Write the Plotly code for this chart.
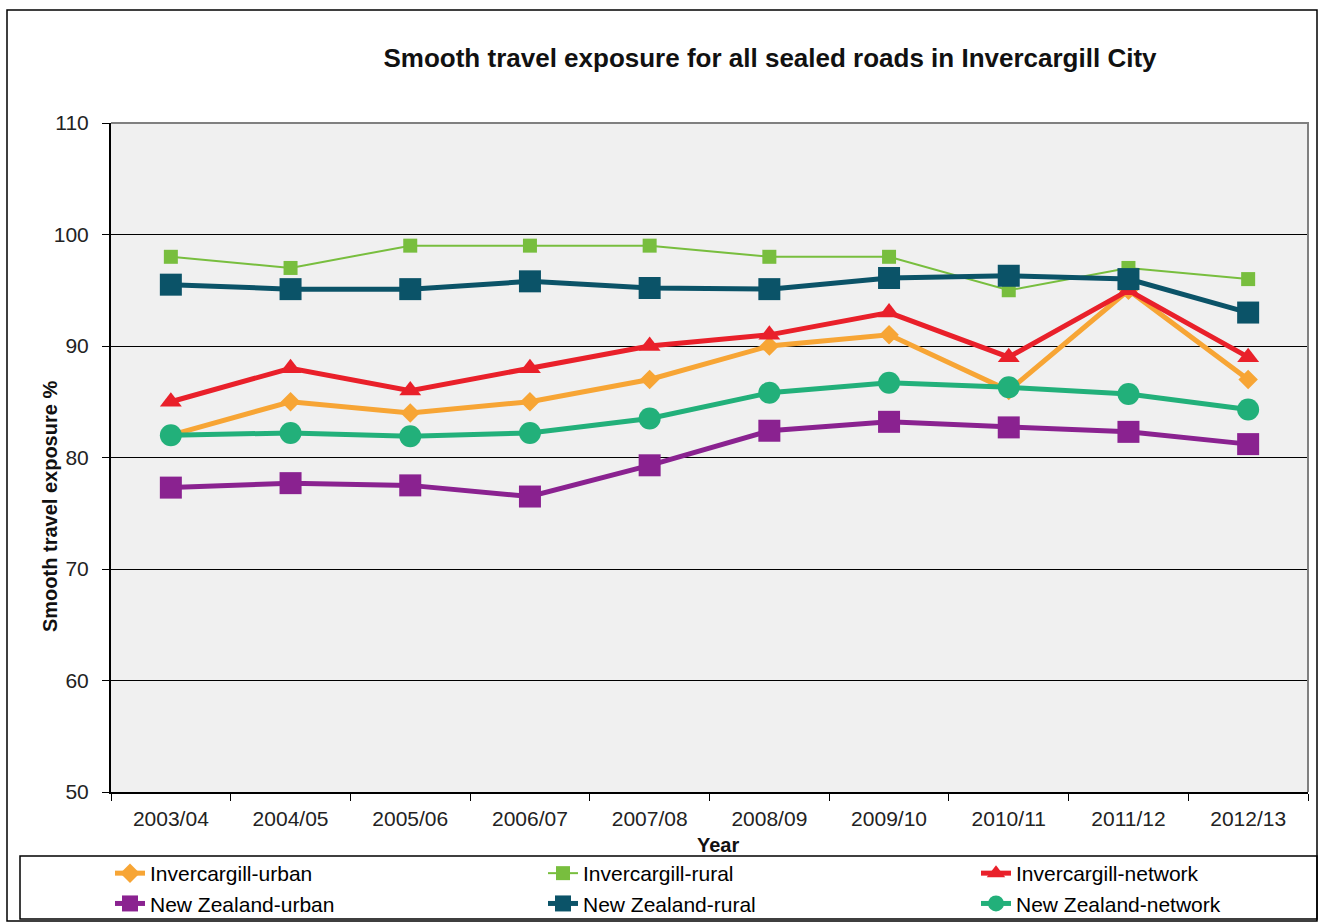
import plotly.graph_objects as go

years = ["2003/04", "2004/05", "2005/06", "2006/07", "2007/08",
         "2008/09", "2009/10", "2010/11", "2011/12", "2012/13"]

inv_urban = [82, 85, 84, 85, 87, 90, 91, 86, 95, 87]
inv_rural = [98, 97, 99, 99, 99, 98, 98, 95, 97, 96]
inv_network = [85, 88, 86, 88, 90, 91, 93, 89, 95, 89]
nz_urban = [77.3, 77.7, 77.5, 76.5, 79.3, 82.4, 83.2, 82.7, 82.3, 81.2]
nz_rural = [95.5, 95.1, 95.1, 95.8, 95.2, 95.1, 96.1, 96.3, 96.0, 93.0]
nz_network = [82.0, 82.2, 81.9, 82.2, 83.5, 85.8, 86.7, 86.3, 85.7, 84.3]

FONT = "Liberation Sans, Arial, sans-serif"

series = [
    ("Invercargill-urban", inv_urban, "#F7A535", 5, "diamond", 15),
    ("Invercargill-rural", inv_rural, "#78BE3E", 2, "square", 14),
    ("Invercargill-network", inv_network, "#E9202A", 5, "triangle-up", 19),
    ("New Zealand-urban", nz_urban, "#8A2290", 5, "square", 22),
    ("New Zealand-rural", nz_rural, "#0B5368", 5, "square", 22),
    ("New Zealand-network", nz_network, "#22B07A", 5, "circle", 22),
]

fig = go.Figure()
for name, vals, color, lw, sym, ms in series:
    fig.add_trace(go.Scatter(
        x=years, y=vals, name=name, mode="lines+markers",
        line=dict(color=color, width=lw),
        marker=dict(symbol=sym, size=ms, color=color, line=dict(width=0)),
    ))

# plot area spans x 111..1308, y 123..792 in a 1318x923 page
L, R, T, B = 111, 10, 123, 131
W, H = 1318, 923
pw, ph = W - L - R, H - T - B

def px_x(x):
    return (x - L) / pw

def px_y(y):
    return (H - B - y) / ph

fig.update_layout(
    width=W, height=H,
    margin=dict(l=L, r=R, t=T, b=B, autoexpand=False),
    paper_bgcolor="white",
    plot_bgcolor="#F0F0F0",
    font=dict(family=FONT, color="black", size=21),
    showlegend=True,
    title=dict(
        text="<b>Smooth travel exposure for all sealed roads in Invercargill City</b>",
        x=770 / W, xref="container", xanchor="center",
        y=1 - 58 / H, yref="container", yanchor="middle",
        font=dict(size=26, family=FONT, color="#111111"),
    ),
    xaxis=dict(
        type="category",
        showline=True, linecolor="black", linewidth=2,
        ticks="outside", tickson="boundaries", ticklen=7, tickcolor="black",
        showgrid=False,
        tickfont=dict(size=21, color="#222222"),
        ticklabelstandoff=7,
        range=[-0.5, 9.5],
    ),
    yaxis=dict(
        range=[50, 110], dtick=10,
        showline=True, linecolor="black", linewidth=2,
        ticks="outside", ticklen=7, tickcolor="black",
        showgrid=True, gridcolor="black", gridwidth=1,
        zeroline=False,
        tickfont=dict(size=21, color="#222222"),
        ticklabelstandoff=9,
    ),
    annotations=[
        dict(text="<b>Year</b>", xref="paper", yref="paper",
             x=px_x(718), y=px_y(845), xanchor="center", yanchor="middle",
             showarrow=False, font=dict(size=20, color="#111111")),
        dict(text="<b>Smooth travel exposure %</b>", xref="paper", yref="paper",
             x=px_x(50), y=px_y(507), xanchor="center", yanchor="middle",
             textangle=-90, showarrow=False, font=dict(size=20, color="#111111")),
    ],
    legend=dict(
        orientation="h",
        xref="paper", yref="paper",
        x=px_x(110), y=px_y(853), xanchor="left", yanchor="top",
        entrywidth=388, entrywidthmode="pixels",
        bgcolor="rgba(0,0,0,0)", borderwidth=0,
        font=dict(size=21, family=FONT),
        tracegroupgap=0, itemwidth=30,
    ),
    shapes=[
        # outer chart frame
        dict(type="rect", xref="paper", yref="paper",
             x0=px_x(7), x1=px_x(1317), y0=px_y(921), y1=px_y(10),
             line=dict(color="black", width=1.5), layer="below"),
        # legend frame
        dict(type="rect", xref="paper", yref="paper",
             x0=px_x(20), x1=px_x(1317), y0=px_y(919), y1=px_y(856),
             line=dict(color="black", width=1.5), layer="below"),
        # plot area top/right border
        dict(type="path", xref="paper", yref="paper",
             path="M 0,1 L 1,1 L 1,0", line=dict(color="#808080", width=2), layer="above"),
    ],
)

fig.write_html("out.html")
